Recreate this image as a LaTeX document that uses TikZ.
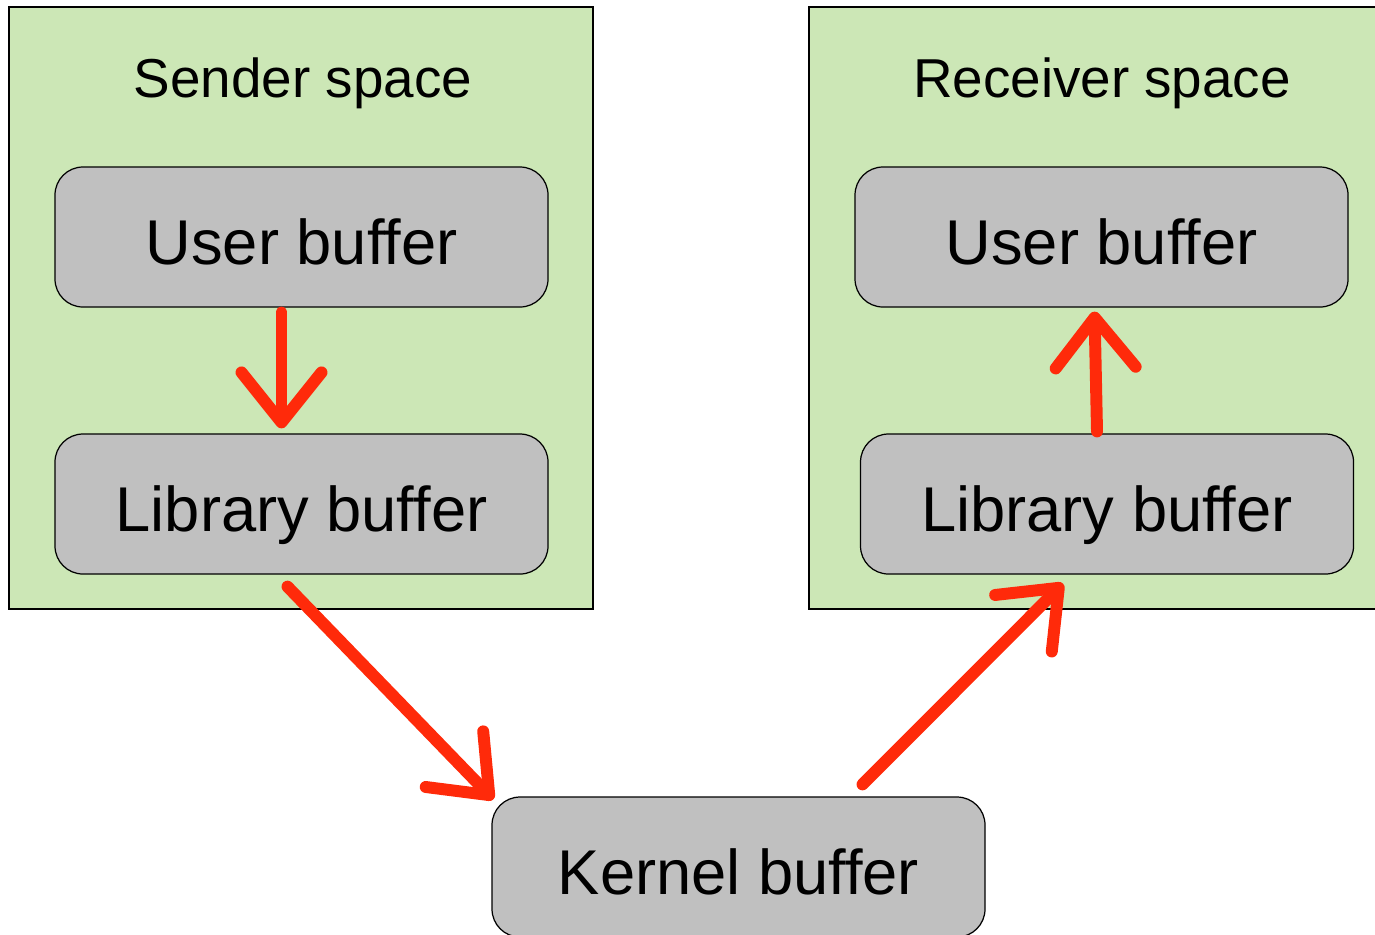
\documentclass[tikz,border=0pt]{standalone}
\usepackage{fontspec}
\setmainfont{Liberation Sans}
\usepackage{xcolor}
\usetikzlibrary{positioning, arrows.meta}

\definecolor{spacegreen}{HTML}{CCE7B6}
\definecolor{bufgray}{HTML}{C0C0C0}
\definecolor{crayon}{HTML}{FF2A0A}

\begin{document}
\begin{tikzpicture}[
        % Styles des boîtes
        space/.style={draw=black, line width=0.35pt, fill=spacegreen},
        title/.style={font=\fontsize{15.6}{18}\selectfont, inner sep=0pt},
        buf/.style={draw=black, line width=0.35pt, fill=bufgray,
                    rounded corners=0.28cm, minimum width=4.93cm,
                    minimum height=1.40cm, inner sep=0pt,
                    text height=16.5pt, text depth=0.7pt,
                    font=\fontsize{18}{22}\selectfont},
        arr/.style={draw=crayon, line width=3.4pt, line cap=round,
                    -{Straight Barb[length=0.5cm, width=0.8cm, round]}},
    ]
        \useasboundingbox (0,0) rectangle (13.75,9.34);

        %% ── Espaces (fond vert) ──
        \fill[space] (0.09,3.25) rectangle (5.93,9.27);
        \fill[space] (8.09,3.25) rectangle (13.80,9.27);

        \node[title] (stitle) at (3.03,8.51)  {Sender space};
        \node[title] (rtitle) at (11.02,8.51) {Receiver space};

        %% ── Tampons ──
        \node[buf] (suser) at (3.015,6.97)  {User buffer};
        \node[buf] (slib)  at (3.015,4.30)  {Library buffer};
        \node[buf] (ruser) at (11.015,6.97) {User buffer};
        \node[buf] (rlib)  at (11.07,4.30)  {Library buffer};
        \node[buf] (kern)  at (7.385,0.67)  {Kernel buffer};

        %% ── Flèches ──
        \draw[arr] ([xshift=-0.2cm, yshift=-0.05cm]suser.south) -- ([xshift=-0.2cm, yshift=0.05cm]slib.north);
        \draw[arr] ([xshift=-0.14cm, yshift=-0.12cm]slib.south) -- ([xshift=0.02cm, yshift=-0.03cm]kern.north west);
        \draw[arr] ([xshift=1.24cm, yshift=0.12cm]kern.north) -- ([xshift=-0.44cm, yshift=-0.09cm]rlib.south);
        \draw[arr] ([xshift=-0.10cm, yshift=0.02cm]rlib.north) -- ([xshift=-0.07cm, yshift=-0.04cm]ruser.south);

    \end{tikzpicture}
\end{document}
